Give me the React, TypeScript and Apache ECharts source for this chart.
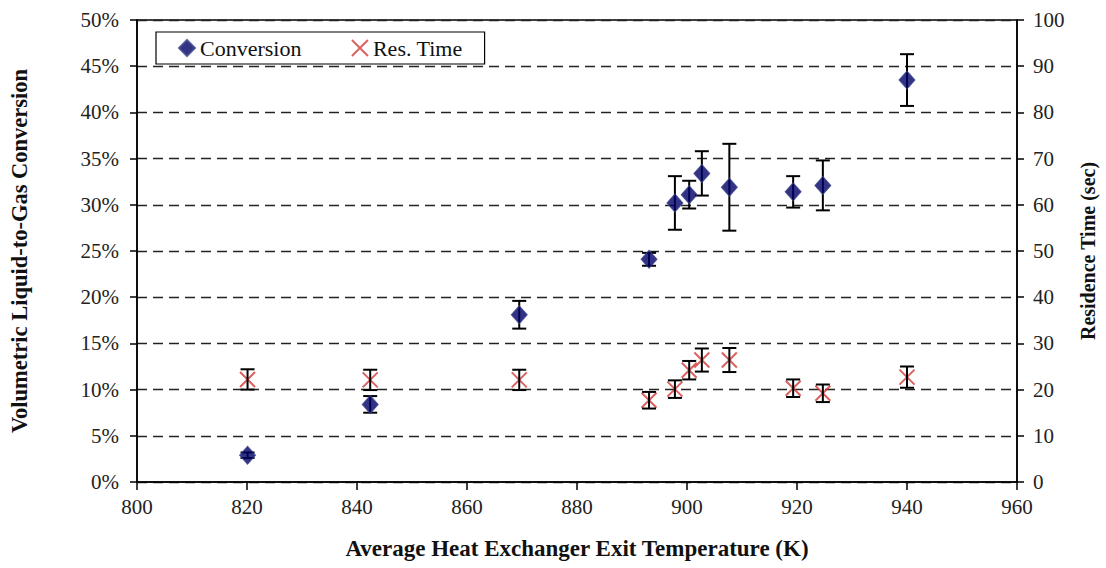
import React, { useEffect, useRef } from "react";
import * as echarts from "echarts";

// Data
const temps = [820.1, 842.4, 869.5, 893.1, 897.8, 900.4, 902.7, 907.7, 919.3, 924.7, 940.0];
const conversion = [2.9, 8.4, 18.1, 24.1, 30.2, 31.1, 33.4, 31.9, 31.4, 32.1, 43.5];
const conversionErr = [0.3, 0.9, 1.5, 0.7, 2.9, 1.5, 2.4, 4.7, 1.7, 2.7, 2.8];
const resTime = [22.2, 22.1, 22.1, 17.7, 20.1, 24.2, 26.4, 26.4, 20.3, 19.2, 22.7];
const resTimeErr = [2.2, 2.2, 2.2, 1.8, 1.9, 2.0, 2.5, 2.6, 1.9, 1.9, 2.3];

const xTitle = "Average Heat Exchanger Exit Temperature (K)";
const yLeftTitle = "Volumetric Liquid-to-Gas Conversion";
const yRightTitle = "Residence Time (sec)";

const FONT = "'Liberation Serif', 'Times New Roman', serif";
const X_PATH = "path://M0,0L10,10M10,0L0,10";

function errorBarRender(params: any, api: any) {
  const x = api.value(0);
  const y = api.value(1);
  const e = api.value(2);
  const hi = api.coord([x, y + e]);
  const lo = api.coord([x, y - e]);
  const hw = 7;
  const style = { stroke: "#000", lineWidth: 2 };
  return {
    type: "group",
    children: [
      { type: "line", shape: { x1: hi[0], y1: hi[1], x2: lo[0], y2: lo[1] }, style },
      { type: "line", shape: { x1: hi[0] - hw, y1: hi[1], x2: hi[0] + hw, y2: hi[1] }, style },
      { type: "line", shape: { x1: lo[0] - hw, y1: lo[1], x2: lo[0] + hw, y2: lo[1] }, style },
    ],
  };
}

export default function App() {
  const ref = useRef<HTMLDivElement>(null);

  useEffect(() => {
    if (!ref.current) return;
    const chart = echarts.init(ref.current, undefined, { renderer: "svg" });

    const convPts = temps.map((t, i) => [t, conversion[i]]);
    const convErrPts = temps.map((t, i) => [t, conversion[i], conversionErr[i]]);
    const resPts = temps.map((t, i) => [t, resTime[i]]);
    const resErrPts = temps.map((t, i) => [t, resTime[i], resTimeErr[i]]);

    const labelStyle = { fontFamily: FONT, fontSize: 21, color: "#222" };
    const nameStyle = (size: number) => ({
      fontFamily: FONT,
      fontSize: size,
      fontWeight: "bold" as const,
      color: "#111",
    });

    chart.setOption({
      animation: false,
      backgroundColor: "#fff",
      grid: {
        left: 137,
        right: 89,
        top: 20,
        bottom: 86,
        show: true,
        borderColor: "#000",
        borderWidth: 1.5,
        backgroundColor: "transparent",
      },
      legend: {
        left: 156,
        top: 32,
        orient: "horizontal",
        data: [
          { name: "Conversion", icon: "diamond" },
          { name: "Res. Time", icon: X_PATH },
        ],
        itemWidth: 16,
        itemHeight: 16,
        itemGap: 48,
        padding: [5, 22, 5, 22],
        borderColor: "#000",
        borderWidth: 1.2,
        backgroundColor: "#fff",
        textStyle: { fontFamily: FONT, fontSize: 22, color: "#111" },
      },
      xAxis: {
        type: "value",
        min: 800,
        max: 960,
        interval: 20,
        name: xTitle,
        nameLocation: "middle",
        nameGap: 55,
        nameTextStyle: nameStyle(23),
        axisLine: { show: true, lineStyle: { color: "#000", width: 1.5 } },
        axisTick: { show: true, length: 8, lineStyle: { color: "#000", width: 1.5 } },
        axisLabel: { ...labelStyle, margin: 14 },
        splitLine: { show: false },
      },
      yAxis: [
        {
          type: "value",
          min: 0,
          max: 50,
          interval: 5,
          position: "left",
          name: yLeftTitle,
          nameLocation: "middle",
          nameRotate: 90,
          nameGap: 106,
          nameTextStyle: nameStyle(22.5),
          axisLine: { show: true, lineStyle: { color: "#000", width: 1.5 } },
          axisTick: { show: true, length: 7, lineStyle: { color: "#000", width: 1.5 } },
          axisLabel: { ...labelStyle, margin: 18, formatter: "{value}%" },
          splitLine: { show: true, lineStyle: { color: "#222", width: 1.3, type: [10, 6] } },
        },
        {
          type: "value",
          min: 0,
          max: 100,
          interval: 10,
          position: "right",
          name: yRightTitle,
          nameLocation: "middle",
          nameRotate: 90,
          nameGap: 61,
          nameTextStyle: nameStyle(20),
          axisLine: { show: true, lineStyle: { color: "#000", width: 1.5 } },
          axisTick: { show: true, length: 7, lineStyle: { color: "#000", width: 1.5 } },
          axisLabel: { ...labelStyle, margin: 16 },
          splitLine: { show: false },
        },
      ],
      series: [
        {
          name: "Res. Time",
          type: "scatter",
          yAxisIndex: 1,
          data: resPts,
          symbol: X_PATH,
          symbolSize: 15,
          itemStyle: { color: "none", borderColor: "#d23a3a", borderWidth: 2 },
          z: 2,
          silent: true,
        },
        {
          name: "resErr",
          type: "custom",
          yAxisIndex: 1,
          data: resErrPts,
          renderItem: errorBarRender,
          z: 3,
          silent: true,
        },
        {
          name: "convErr",
          type: "custom",
          yAxisIndex: 0,
          data: convErrPts,
          renderItem: errorBarRender,
          z: 3,
          silent: true,
        },
        {
          name: "Conversion",
          type: "scatter",
          yAxisIndex: 0,
          data: convPts,
          symbol: "diamond",
          symbolSize: [16, 18],
          itemStyle: { color: "#000066", borderColor: "#3c4488", borderWidth: 1 },
          z: 4,
          silent: true,
        },
      ],
    });

    return () => chart.dispose();
  }, []);

  return (
    <div
      ref={ref}
      style={{ position: "fixed", left: 0, top: 0, width: 1106, height: 568, background: "#fff" }}
    />
  );
}
